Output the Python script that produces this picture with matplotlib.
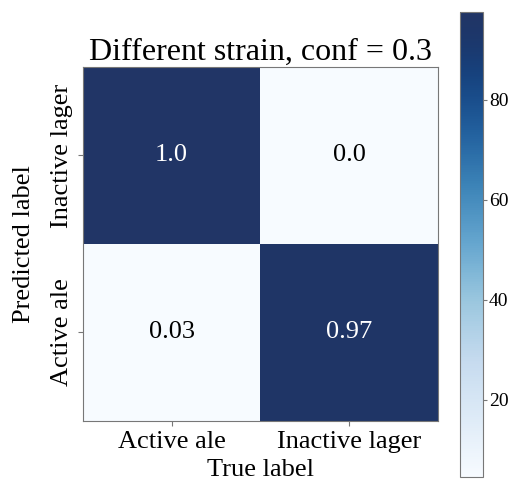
import numpy as np
import matplotlib.pyplot as plt
from matplotlib.colors import ListedColormap

plt.rcParams['font.family'] = ['Liberation Serif', 'DejaVu Serif']

true_labels = ["Active ale", "Inactive lager"]
pred_labels = ["Inactive lager", "Active ale"]   # top row first
cell_text = [["1.0", "0.0"],
             ["0.03", "0.97"]]
cell_color = np.array([[97.6, 4.6],
                       [4.8, 96.0]])
cbar_ticks = [20, 40, 60, 80]

# Blues, slightly greyed at the dark end
x = np.linspace(0, 1, 256)
cols = plt.get_cmap("Blues")(x)
w = (x ** 4)[:, None]
cols[:, :3] = cols[:, :3] * (1 - w) + np.array([0.13, 0.21, 0.40]) * w
cmap = ListedColormap(cols)

fig = plt.figure(figsize=(5.12, 4.82), dpi=100)
ax = fig.add_axes([0.162, 0.127, 0.693, 0.734])
cax = fig.add_axes([0.898, 0.011, 0.045, 0.964])

im = ax.imshow(cell_color, cmap=cmap, aspect="auto")
for i in range(2):
    for j in range(2):
        col = "white" if cell_color[i, j] > 50 else "black"
        ax.text(j, i, cell_text[i][j], ha="center", va="center",
                fontsize=19, color=col)

ax.set_xticks(range(2))
ax.set_xticklabels(true_labels, fontsize=19)
ax.set_yticks(range(2))
ax.set_yticklabels(pred_labels, fontsize=19, rotation=90, va="center")
ax.set_xlabel("True label", fontsize=19, labelpad=5)
ax.set_ylabel("Predicted label", fontsize=19, labelpad=12)
ax.set_title("Different strain, conf = 0.3", fontsize=23, pad=4)
for s in ax.spines.values():
    s.set_edgecolor("#777777")
ax.tick_params(color="#777777")

cb = fig.colorbar(im, cax=cax, ticks=cbar_ticks)
cb.ax.tick_params(labelsize=14, color="#777777", length=3, pad=1.5)
cb.outline.set_edgecolor("#777777")

fig.savefig("out.png", dpi=100)
